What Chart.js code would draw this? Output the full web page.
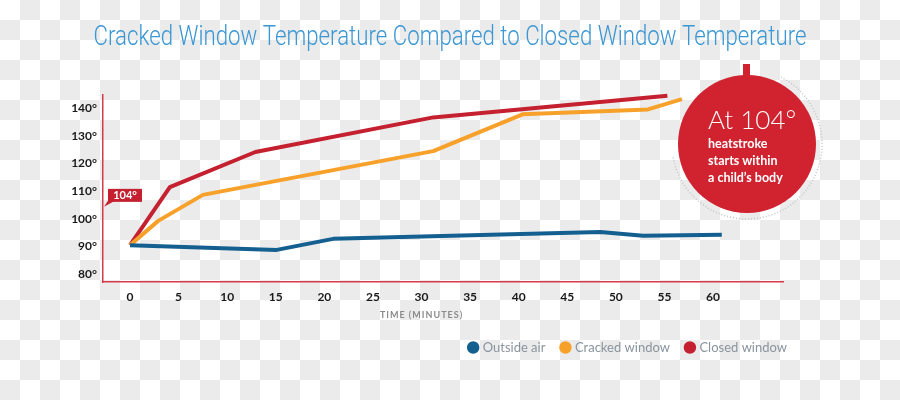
<!DOCTYPE html>
<html>
<head>
<meta charset="utf-8">
<script src="https://cdn.jsdelivr.net/npm/chart.js@4.4.1/dist/chart.umd.min.js"></script>
<style>
  html, body { margin: 0; padding: 0; }
  body {
    width: 900px; height: 400px; overflow: hidden;
    background: repeating-conic-gradient(#ebebeb 0 25%, #ffffff 0 50%) 0 0 / 40px 40px;
  }
</style>
</head>
<body>
<canvas id="TempChart" width="900" height="400"></canvas>
<script>
// values (minutes, degrees F)
var outsideMin  = [0, 15.1, 20.9, 48.4, 52.8, 60.9];
var outsideTemp = [90.5, 88.8, 92.8, 95.3, 93.9, 94.3];

var crackedMin  = [0, 2.9, 7.5, 31.2, 40.4, 53.3, 56.8];
var crackedTemp = [90.5, 99.3, 108.7, 124.5, 137.8, 139.6, 143.3];

var closedMin  = [0, 4.1, 12.9, 31.2, 55.3];
var closedTemp = [90.5, 111.5, 124.2, 136.7, 144.5];

var xTicks = [0, 5, 10, 15, 20, 25, 30, 35, 40, 45, 50, 55, 60];
var yTicks = [80, 90, 100, 110, 120, 130, 140];

var seriesNames = ["Outside air", "Cracked window", "Closed window"];
var heatstrokeTemp = 104;
var chartTitle = 'Cracked Window Temperature Compared to Closed Window Temperature';

function toPoints(xs, ys) {
    var pts = [];
    for (var i = 0; i < xs.length; i++) pts.push({x: xs[i], y: ys[i]});
    return pts;
}

var axisRed = '#d83a48';
var Colours = ['#135f8f', '#f7a12b', '#c4202f'];

// title (narrow), "104°" tag, axis title and the heatstroke bubble
var extras = {
    id: 'extras',
    afterDraw: function (chart) {
        var ctx = chart.ctx;
        var area = chart.chartArea;
        var xs = chart.scales.x, ys = chart.scales.y;

        // title, squeezed to look like a condensed face
        ctx.save();
        ctx.fillStyle = '#3a97d4';
        ctx.font = '300 27px Roboto';
        ctx.textAlign = 'center';
        ctx.textBaseline = 'alphabetic';
        var tw = ctx.measureText(chartTitle).width;
        ctx.translate(450, 45);
        ctx.scale(713 / tw, 1);
        ctx.fillText(chartTitle, 0, 0);
        ctx.restore();

        // 104° tag on the y axis
        var py = ys.getPixelForValue(heatstrokeTemp);
        var bl = area.left + 5, br = area.left + 39, bt = py - 19, bb = py - 6;
        ctx.save();
        ctx.fillStyle = '#c4202f';
        ctx.fillRect(bl, bt, br - bl, bb - bt);
        ctx.beginPath();
        ctx.moveTo(bl, bb - 1);
        ctx.lineTo(bl + 7, bb - 1);
        ctx.lineTo(area.left + 1, py - 1);
        ctx.closePath();
        ctx.fill();
        ctx.fillStyle = '#ffffff';
        ctx.font = '700 11px Lato';
        ctx.textAlign = 'center';
        ctx.textBaseline = 'middle';
        ctx.fillText(heatstrokeTemp + '°', (bl + br) / 2, (bt + bb) / 2 + 0.5);
        ctx.restore();

        // axis title
        ctx.save();
        ctx.fillStyle = '#8a8a8a';
        ctx.font = '700 9px Lato';
        ctx.letterSpacing = '1px';
        ctx.textAlign = 'center';
        ctx.textBaseline = 'middle';
        ctx.fillText('TIME (MINUTES)', xs.getPixelForValue(30), 315);
        ctx.restore();

        // heatstroke bubble
        var cx = 747, cy = 144, r = 69;
        ctx.save();
        ctx.strokeStyle = '#bfc5cb';
        ctx.lineWidth = 1.5;
        ctx.setLineDash([1, 2]);
        ctx.beginPath();
        ctx.arc(cx, cy, r + 6, -Math.PI * 0.35, Math.PI * 0.95);
        ctx.stroke();
        ctx.setLineDash([]);
        ctx.fillStyle = '#d0222f';
        ctx.fillRect(cx - 4, 64, 7, 14);
        ctx.beginPath();
        ctx.arc(cx, cy, r, 0, Math.PI * 2);
        ctx.fill();
        ctx.fillStyle = '#ffffff';
        ctx.textAlign = 'left';
        ctx.textBaseline = 'middle';
        ctx.font = '300 26px Lato';
        ctx.fillText('At 104°', 708, 121);
        ctx.font = '700 12.5px Lato';
        ctx.fillText('heatstroke', 708, 144);
        ctx.fillText('starts within', 708, 161);
        ctx.fillText('a child’s body', 708, 178);
        ctx.restore();
    }
};

var canvas = document.getElementById("TempChart").getContext('2d');

var myLineChart = new Chart(canvas, {
    type: 'line',
    data: {
        datasets: [{
            label: seriesNames[0],
            data: toPoints(outsideMin, outsideTemp),
            borderColor: Colours[0],
            backgroundColor: Colours[0]
        }, {
            label: seriesNames[1],
            data: toPoints(crackedMin, crackedTemp),
            borderColor: Colours[1],
            backgroundColor: Colours[1]
        }, {
            label: seriesNames[2],
            data: toPoints(closedMin, closedTemp),
            borderColor: Colours[2],
            backgroundColor: Colours[2]
        }]
    },
    options: {
        responsive: false,
        animation: false,
        events: [],
        datasets: {
            line: {
                borderWidth: 4,
                pointRadius: 0,
                tension: 0,
                clip: false,
                borderJoinStyle: 'round'
            }
        },
        layout: {
            padding: {left: 0, right: 96, top: 95, bottom: 36}
        },
        plugins: {
            title: {display: false},
            legend: {
                display: true,
                position: 'bottom',
                align: 'end',
                labels: {
                    usePointStyle: true,
                    pointStyle: 'circle',
                    boxWidth: 6,
                    boxHeight: 6,
                    padding: 17,
                    color: '#8a949e',
                    font: {family: 'Lato', size: 13}
                }
            },
            tooltip: {enabled: false}
        },
        scales: {
            x: {
                type: 'linear',
                min: -2.78,
                max: 67.2,
                grid: {display: false, drawTicks: false},
                border: {display: true, color: axisRed, width: 1.5},
                ticks: {
                    color: '#1a1a1a',
                    font: {family: 'Lato', size: 12, weight: '700'},
                    padding: 8,
                    maxRotation: 0
                },
                afterBuildTicks: function (scale) {
                    scale.ticks = xTicks.map(function (v) { return {value: v}; });
                },
                afterFit: function (scale) { scale.height = 42; }
            },
            y: {
                min: 77.2,
                max: 144.8,
                grid: {display: false, drawTicks: false},
                border: {display: true, color: axisRed, width: 1.5},
                ticks: {
                    color: '#1a1a1a',
                    font: {family: 'Lato', size: 12, weight: '700'},
                    padding: 6,
                    callback: function (v) { return v + '°'; }
                },
                afterBuildTicks: function (scale) {
                    scale.ticks = yTicks.map(function (v) { return {value: v}; });
                },
                afterFit: function (scale) { scale.width = 103; }
            },
            // empty spacer on the right so the legend can run past the plot
            spacer: {
                type: 'linear',
                position: 'right',
                grid: {display: false, drawTicks: false},
                border: {display: false},
                ticks: {display: false},
                afterFit: function (scale) { scale.width = 21; }
            }
        }
    },
    plugins: [extras]
});
</script>
</body>
</html>
